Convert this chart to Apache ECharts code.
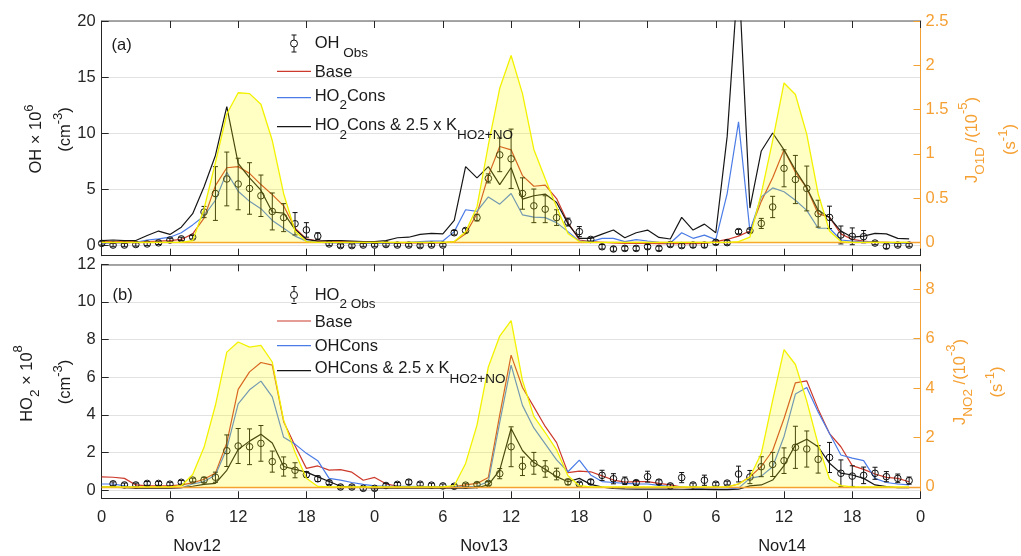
<!DOCTYPE html>
<html><head><meta charset="utf-8">
<script src="https://cdn.jsdelivr.net/npm/echarts@6/dist/echarts.min.js"></script>
<style>html,body{margin:0;padding:0;background:#fff}#c{width:1021px;height:556px}</style>
</head><body><div id="c"></div>
<script>
// ---------- DATA ----------
const hours = [0,1,2,3,4,5,6,7,8,9,10,11,12,13,14,15,16,17,18,19,20,21,22,23,
  24,25,26,27,28,29,30,31,32,33,34,35,36,37,38,39,40,41,42,43,44,45,46,47,
  48,49,50,51,52,53,54,55,56,57,58,59,60,61,62,63,64,65,66,67,68,69,70,71];
const xTickLabels = ['0','6','12','18','0','6','12','18','0','6','12','18','0'];
const dayLabels = ['Nov12','Nov13','Nov14'];
const ohTicks = [0,5,10,15,20];
const jo1dTicks = [0,0.5,1,1.5,2,2.5];
const ho2Ticks = [0,2,4,6,8,10,12];
const jno2Ticks = [0,2,4,6,8];

// Panel (a): OH x 1e6 cm-3
const ohObs = [0.15,0.0,0.0,0.05,0.1,0.2,0.45,0.55,0.7,2.95,4.6,5.9,5.45,5.05,4.4,3.0,2.45,1.9,1.35,0.8,0.1,-0.05,-0.05,0.0,
  0.0,0.05,0.0,0.0,-0.05,0.0,0.0,1.1,1.3,2.45,5.95,8.05,7.7,4.6,3.5,3.2,2.45,2.05,1.2,0.5,-0.15,-0.35,-0.3,-0.3,
  -0.15,-0.3,0.05,-0.05,0.0,0.0,0.24,0.22,1.2,1.28,1.93,3.4,6.85,5.85,5.05,2.8,2.47,0.9,0.78,0.75,0.18,-0.1,0.0,0.0];
const ohErr = [0.15,0.15,0.15,0.15,0.15,0.15,0.15,0.15,0.15,0.5,2.4,2.4,2.3,2.3,1.85,1.65,1.25,1.0,0.65,0.3,0.15,0.15,0.15,0.15,
  0.15,0.15,0.15,0.15,0.15,0.15,0.15,0.2,0.2,0.3,0.4,1.5,2.65,1.4,1.5,1.2,0.7,0.35,0.45,0.15,0.2,0.2,0.2,0.2,
  0.2,0.2,0.2,0.2,0.2,0.2,0.2,0.2,0.2,0.15,0.45,0.95,1.65,2.15,2.0,1.2,1.0,0.8,0.75,0.55,0.15,0.2,0.15,0.15];
const ohBase = [0.3,0.3,0.3,0.3,0.3,0.35,0.4,0.5,1.0,2.4,5.3,6.9,7.0,6.4,5.4,4.5,3.5,1.5,0.55,0.35,0.35,0.3,0.3,0.25,
  0.2,0.2,0.2,0.2,0.2,0.2,0.2,0.3,1.0,2.8,6.2,8.8,8.5,6.2,5.25,5.35,4.15,2.0,0.45,0.3,0.25,0.2,0.15,0.15,
  0.15,0.12,0.12,0.12,0.12,0.15,0.3,0.5,0.8,1.25,3.9,6.0,8.5,6.5,5.1,2.8,2.5,1.0,0.5,0.35,0.25,0.25,0.2,0.2];
const ohHO2Cons = [0.15,0.2,0.2,0.25,0.45,0.55,0.7,1.1,1.8,2.6,4.0,6.5,4.8,3.9,3.25,2.2,1.5,0.8,0.35,0.25,0.2,0.2,0.2,0.15,
  0.15,0.15,0.2,0.25,0.3,0.35,0.36,1.2,3.15,3.0,4.3,3.65,4.6,2.7,2.5,2.45,2.0,1.2,0.35,0.3,0.6,0.6,0.3,0.48,
  0.36,0.25,0.18,1.1,0.6,0.89,0.48,4.6,11.0,1.25,4.3,5.1,4.76,4.0,3.1,1.5,1.5,0.45,0.35,0.3,0.25,0.2,0.15,0.15];
const ohHO2ConsK = [0.4,0.45,0.4,0.4,0.85,1.25,0.95,1.6,2.8,5.2,8.0,12.35,7.3,6.0,4.9,2.95,2.85,1.4,0.5,0.35,0.4,0.4,0.35,0.3,
  0.3,0.4,0.65,0.7,0.95,1.05,1.0,2.2,7.0,6.0,7.0,5.4,6.9,4.1,4.4,4.55,3.8,1.9,0.6,0.6,0.98,1.34,0.65,1.1,
  1.34,0.68,0.54,2.47,1.34,1.87,1.1,9.7,24.5,3.3,8.4,10.0,8.5,6.7,5.1,3.1,2.45,1.25,0.7,0.8,1.05,1.0,0.6,0.55];
const jO1D = [0,0,0,0,0,0,0,0,0.02,0.38,0.9,1.45,1.69,1.68,1.56,1.15,0.55,0.13,0.01,0,0,0,0,0,
  0,0,0,0,0,0,0,0.01,0.12,0.4,1.1,1.74,2.11,1.68,1.05,0.72,0.4,0.1,0.01,0,0,0,0,0,
  0,0,0,0,0,0,0,0,0.01,0.06,0.55,1.15,1.8,1.67,1.22,0.55,0.13,0.01,0,0,0,0,0,0];

// Panel (b): HO2 x 1e8 cm-3
const ho2Obs = [null,0.33,0.27,0.27,0.35,0.35,0.31,0.41,0.53,0.53,0.68,2.09,2.34,2.3,2.48,1.51,1.25,1.05,0.82,0.6,0.39,0.16,0.16,0.09,
  0.09,0.24,0.3,0.42,0.31,0.26,0.22,0.2,0.26,0.29,0.35,0.87,2.3,1.26,1.42,1.12,0.85,0.43,0.31,0.43,0.78,0.6,0.49,0.39,
  0.71,0.42,0.22,0.66,0.27,0.52,0.31,0.37,0.85,0.69,1.24,1.36,1.56,2.27,2.18,1.63,1.73,0.89,0.74,0.78,0.89,0.71,0.62,0.5];
const ho2Err = [null,0.1,0.1,0.1,0.1,0.1,0.1,0.1,0.1,0.15,0.27,0.84,0.93,0.95,0.95,0.56,0.51,0.4,0.15,0.15,0.1,0.1,0.1,0.1,
  0.1,0.1,0.1,0.12,0.1,0.1,0.1,0.1,0.1,0.1,0.1,0.27,1.06,0.49,0.58,0.44,0.31,0.15,0.1,0.12,0.27,0.27,0.2,0.12,
  0.29,0.12,0.1,0.27,0.1,0.27,0.1,0.1,0.42,0.35,0.53,0.64,0.68,1.12,0.96,0.73,0.8,0.71,0.55,0.44,0.32,0.27,0.23,0.19];
const ho2Base = [0.7,0.68,0.62,0.27,0.22,0.22,0.22,0.27,0.38,0.57,0.9,2.5,5.35,6.28,6.78,6.64,3.63,2.35,1.15,1.28,1.06,1.08,0.95,0.52,
  0.67,0.33,0.2,0.18,0.15,0.15,0.14,0.18,0.27,0.35,0.67,4.0,7.17,5.45,4.42,3.38,2.52,0.92,1.0,0.97,0.75,0.53,0.42,0.45,
  0.45,0.35,0.27,0.15,0.14,0.12,0.12,0.16,0.32,0.7,1.25,2.1,3.8,5.7,5.8,4.3,3.0,2.3,1.3,1.1,0.85,0.67,0.62,0.44];
const ho2OHCons = [0.32,0.32,0.22,0.1,0.1,0.1,0.1,0.12,0.32,0.45,0.8,2.2,4.58,5.33,5.79,4.95,2.8,2.44,1.95,1.56,0.62,0.53,0.4,0.3,
  0.22,0.2,0.2,0.2,0.18,0.18,0.18,0.18,0.18,0.2,0.45,3.6,6.64,4.5,3.3,2.45,1.6,0.97,1.59,0.8,0.45,0.4,0.35,0.33,
  0.32,0.25,0.18,0.15,0.1,0.06,0.05,0.05,0.1,0.62,0.74,1.24,2.85,5.1,5.45,4.15,3.0,1.86,1.7,1.56,0.62,0.4,0.32,0.27];
const ho2OHConsK = [0.15,0.15,0.12,0.1,0.1,0.1,0.1,0.12,0.2,0.3,0.35,1.05,2.15,2.6,2.97,2.5,1.25,1.1,0.95,0.7,0.45,0.2,0.15,0.14,
  0.1,0.1,0.1,0.1,0.1,0.1,0.1,0.1,0.1,0.12,0.27,1.06,3.27,2.1,1.46,1.1,0.71,0.44,0.62,0.3,0.15,0.08,0.06,0.05,
  0.05,0.05,0.05,0.04,0.03,0.03,0.02,0.02,0.04,0.22,0.27,0.53,1.3,2.4,2.7,2.3,1.42,0.9,0.8,0.62,0.27,0.18,0.12,0.12];
const jNO2 = [0,0,0,0,0,0,0,0.05,0.5,1.6,3.3,5.45,5.86,5.65,5.72,5.05,2.7,1.4,0.35,0.02,0,0,0,0,
  0,0,0,0,0,0,0,0.05,0.95,2.5,4.85,6.1,6.72,4.3,2.85,2.2,1.5,0.45,0.05,0,0,0,0,0,
  0,0,0,0,0,0,0,0,0.12,0.4,1.35,3.5,5.55,4.95,3.47,1.72,0.32,0.05,0,0,0,0,0,0];

// ---------- STYLE ----------
const F = '"Liberation Sans", Arial, Helvetica, sans-serif';
const fnt = s => s + 'px ' + F;
const DARK = '#262626';
const ORANGE = '#f5a033';
const RED = '#cc3a2c';
const BLUE = '#4a7be6';
const BLACK = '#161616';
const FS = 16.5;

const pair = (xs, ys) => xs.map((x, i) => [x, ys[i]]);
const triple = (xs, ys, es) => xs.map((x, i) => [x, ys[i], es[i]]).filter(d => d[1] != null);

function errRender(params, api) {
  const x = api.value(0), y = api.value(1), e = api.value(2);
  const c = api.coord([x, y]);
  const t = api.coord([x, y + e]);
  const b = api.coord([x, y - e]);
  const cap = 2.5, r = 3.3;
  const st = {stroke: '#111', lineWidth: 1, fill: null};
  return {type: 'group', children: [
    {type: 'line', shape: {x1: c[0], y1: t[1], x2: c[0], y2: b[1]}, style: st},
    {type: 'line', shape: {x1: c[0]-cap, y1: t[1], x2: c[0]+cap, y2: t[1]}, style: st},
    {type: 'line', shape: {x1: c[0]-cap, y1: b[1], x2: c[0]+cap, y2: b[1]}, style: st},
    {type: 'circle', shape: {cx: c[0], cy: c[1], r: r}, style: {stroke: '#111', lineWidth: 1, fill: 'rgba(0,0,0,0)'}}
  ]};
}

function xAx(gi, pos, showLabel) {
  return {type: 'value', gridIndex: gi, position: pos, min: 0, max: 72, interval: 6,
    axisLine: {show: true, onZero: false, lineStyle: {color: pos === 'top' ? '#8a8a8a' : DARK, width: pos === 'top' ? 1.5 : 1}},
    axisTick: {show: true, inside: true, length: 7, lineStyle: {color: DARK}},
    axisLabel: {show: showLabel, formatter: v => xTickLabels[Math.round(v / 6)], color: DARK, fontSize: FS, fontFamily: F, margin: 11},
    splitLine: {show: false}};
}
function yLeft(gi, min, max, ticks) {
  return {type: 'value', gridIndex: gi, position: 'left', min: min, max: max,
    axisLine: {show: true, onZero: false, lineStyle: {color: DARK}},
    axisTick: {show: true, inside: true, length: 7, customValues: ticks, lineStyle: {color: DARK}},
    axisLabel: {customValues: ticks, color: DARK, fontSize: FS, fontFamily: F, margin: 6},
    splitLine: {show: true, lineStyle: {color: '#e2e2e2', width: 1}}};
}
function yRight(gi, min, max, ticks) {
  return {type: 'value', gridIndex: gi, position: 'right', min: min, max: max,
    axisLine: {show: true, onZero: false, lineStyle: {color: ORANGE}},
    axisTick: {show: true, inside: true, length: 7, customValues: ticks, lineStyle: {color: ORANGE}},
    axisLabel: {customValues: ticks, color: ORANGE, fontSize: FS, fontFamily: F, margin: 5},
    splitLine: {show: false}};
}
function lineSeries(name, xi, yi, data, color) {
  return {name, type: 'line', xAxisIndex: xi, yAxisIndex: yi, data: pair(hours, data),
    showSymbol: false, symbol: 'none', z: 2, lineStyle: {color, width: 1.2}, itemStyle: {color}, silent: true};
}
function areaSeries(name, xi, yi, data) {
  return {name, type: 'line', xAxisIndex: xi, yAxisIndex: yi, data: pair(hours, data),
    showSymbol: false, symbol: 'none', z: 5, silent: true,
    lineStyle: {color: '#f2f200', width: 1.3}, itemStyle: {color: '#f2f200'},
    areaStyle: {color: 'rgba(255,255,0,0.33)', origin: 0},
    markLine: {silent: true, symbol: 'none', animation: false, label: {show: false},
      lineStyle: {color: ORANGE, type: 'solid', width: 1.3}, data: [{yAxis: 0}]}};
}
function obsSeries(name, xi, yi, vals, errs) {
  return {name, type: 'custom', xAxisIndex: xi, yAxisIndex: yi, z: 3, silent: true,
    renderItem: errRender, data: triple(hours, vals, errs), clip: false};
}

// ---------- graphic helpers ----------
const TXT = '#1a1a1a';
function rtext(x, y, text, rich, opt) {
  opt = opt || {};
  return {type: 'text', x, y, rotation: opt.rot || 0, z: 100, silent: true,
    style: {text, rich, align: opt.align || 'left', verticalAlign: 'middle', fill: opt.fill || TXT, font: fnt(FS)}};
}
function richSet(L, color) {
  color = color || TXT;
  return {
    m: {font: fnt(FS), fill: color, lineHeight: L},
    s: {font: fnt(13.5), fill: color, verticalAlign: 'bottom', lineHeight: 13.5},
    p: {font: fnt(13), fill: color, verticalAlign: 'top', lineHeight: 13}
  };
}
function legLine(x1, x2, y, color) {
  return {type: 'line', z: 100, silent: true, shape: {x1, y1: y, x2, y2: y}, style: {stroke: color, lineWidth: 1.2}};
}
function obsGlyph(x, y) {
  const st = {stroke: '#111', lineWidth: 1};
  return {type: 'group', z: 100, silent: true, children: [
    {type: 'line', shape: {x1: x, y1: y - 8.5, x2: x, y2: y + 8.5}, style: st},
    {type: 'line', shape: {x1: x - 2.5, y1: y - 8.5, x2: x + 2.5, y2: y - 8.5}, style: st},
    {type: 'line', shape: {x1: x - 2.5, y1: y + 8.5, x2: x + 2.5, y2: y + 8.5}, style: st},
    {type: 'circle', shape: {cx: x, cy: y, r: 3.5}, style: {stroke: '#111', lineWidth: 1, fill: '#fff'}}
  ]};
}

const R90 = Math.PI / 2;
const graphic = [
  rtext(111.5, 45, '(a)'),
  rtext(112.5, 295, '(b)'),
  obsGlyph(294, 43.5),
  rtext(314.7, 43.3, '{m|OH}{s| Obs}', richSet(33)),
  legLine(277, 311, 71.3, RED),
  rtext(314.7, 72.7, 'Base'),
  legLine(277, 311, 97.7, BLUE),
  rtext(314.7, 96, '{m|HO}{s|2}{m|Cons}', richSet(33)),
  legLine(277, 311, 126.7, BLACK),
  rtext(314.7, 125, '{m|HO}{s|2}{m|Cons & 2.5 x K}{s|HO2+NO}', richSet(35.5)),
  obsGlyph(294, 295),
  rtext(314.7, 295, '{m|HO}{s|2 Obs}', richSet(33)),
  legLine(277, 311, 321, RED),
  rtext(314.7, 322.5, 'Base'),
  legLine(277, 311, 345.7, BLUE),
  rtext(314.7, 346, 'OHCons'),
  legLine(277, 311, 370.7, BLACK),
  rtext(314.7, 368.3, '{m|OHCons & 2.5 x K}{s|HO2+NO}', richSet(35.5)),
  rtext(36, 139, '{m|OH × 10}{p|6}', richSet(26), {rot: R90, align: 'center'}),
  rtext(65, 129.5, '{m|(cm}{p|-3}{m|)}', richSet(26), {rot: R90, align: 'center'}),
  rtext(972, 140, '{m|J}{s|O1D}{m| /(10}{p|-5}{m|)}', richSet(30, ORANGE), {rot: R90, align: 'center', fill: ORANGE}),
  rtext(1010, 139.5, '{m|(s}{p|-1}{m|)}', richSet(26, ORANGE), {rot: R90, align: 'center', fill: ORANGE}),
  rtext(27, 383.5, '{m|HO}{s|2}{m| × 10}{p|8}', richSet(30), {rot: R90, align: 'center'}),
  rtext(65, 382, '{m|(cm}{p|-3}{m|)}', richSet(26), {rot: R90, align: 'center'}),
  rtext(960, 382, '{m|J}{s|NO2}{m| /(10}{p|-3}{m|)}', richSet(30, ORANGE), {rot: R90, align: 'center', fill: ORANGE}),
  rtext(997, 382, '{m|(s}{p|-1}{m|)}', richSet(26, ORANGE), {rot: R90, align: 'center', fill: ORANGE}),
  rtext(197, 546, dayLabels[0], null, {align: 'center'}),
  rtext(484, 546, dayLabels[1], null, {align: 'center'}),
  rtext(782, 546, dayLabels[2], null, {align: 'center'})
];

const option = {
  animation: false,
  backgroundColor: '#fff',
  textStyle: {fontFamily: F},
  grid: [
    {left: 101.7, right: 100.5, top: 21, height: 234.7, containLabel: false},
    {left: 101.7, right: 100.5, top: 264.3, height: 234, containLabel: false}
  ],
  xAxis: [xAx(0, 'bottom', false), xAx(0, 'top', false), xAx(1, 'bottom', true), xAx(1, 'top', false)],
  yAxis: [yLeft(0, -0.95, 20, ohTicks), yRight(0, -0.15, 2.5, jo1dTicks),
          yLeft(1, -0.44, 12, ho2Ticks), yRight(1, -0.46, 9.0, jno2Ticks)],
  series: [
    lineSeries('Base', 0, 0, ohBase, RED),
    lineSeries('HO2Cons', 0, 0, ohHO2Cons, BLUE),
    lineSeries('HO2Cons & 2.5 x K', 0, 0, ohHO2ConsK, BLACK),
    obsSeries('OH Obs', 0, 0, ohObs, ohErr),
    areaSeries('J O1D', 0, 1, jO1D),
    lineSeries('Base', 2, 2, ho2Base, RED),
    lineSeries('OHCons', 2, 2, ho2OHCons, BLUE),
    lineSeries('OHCons & 2.5 x K', 2, 2, ho2OHConsK, BLACK),
    obsSeries('HO2 Obs', 2, 2, ho2Obs, ho2Err),
    areaSeries('J NO2', 2, 3, jNO2)
  ],
  graphic: graphic
};
const chart = echarts.init(document.getElementById('c'), null, {renderer: 'canvas'});
chart.setOption(option);
</script></body></html>
